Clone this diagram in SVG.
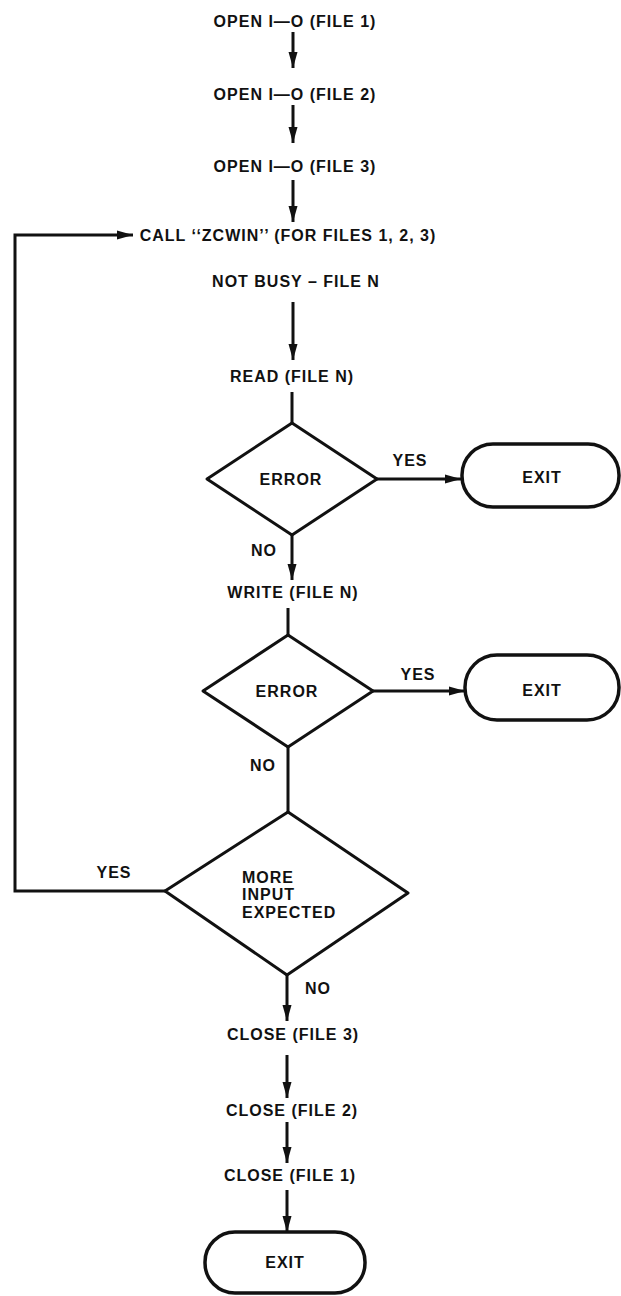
<svg xmlns="http://www.w3.org/2000/svg" width="621" height="1296" viewBox="0 0 621 1296">
  <style>
    text { font-family: "Liberation Sans", Arial, Helvetica, sans-serif; font-weight: bold; font-size: 16px; fill: #111; letter-spacing: 1px; }
    .c { text-anchor: middle; }
    .shape { fill: none; stroke: #111; stroke-width: 3; stroke-linejoin: round; }
    .term { fill: none; stroke: #111; stroke-width: 3.5; }
    .wire { fill: none; stroke: #111; stroke-width: 3; }
  </style>
  <defs>
    <marker id="arrow" markerUnits="userSpaceOnUse" markerWidth="18" markerHeight="10" refX="16" refY="5" orient="auto">
      <path d="M0,0.5 L16,5 L0,9.5 z" fill="#111"/>
    </marker>
  </defs>
  <rect width="621" height="1296" fill="#fff"/>

  <!-- connectors -->
  <g id="connectors">
    <line class="wire" x1="293" y1="32" x2="293" y2="68" marker-end="url(#arrow)"/>
    <line class="wire" x1="293" y1="105" x2="293" y2="143" marker-end="url(#arrow)"/>
    <line class="wire" x1="293" y1="180" x2="293" y2="222" marker-end="url(#arrow)"/>
    <line class="wire" x1="293" y1="302" x2="293" y2="360" marker-end="url(#arrow)"/>
    <line class="wire" x1="292" y1="392" x2="292" y2="423"/>
    <line class="wire" x1="377" y1="479" x2="461" y2="479" marker-end="url(#arrow)"/>
    <line class="wire" x1="292" y1="535" x2="292" y2="580" marker-end="url(#arrow)"/>
    <line class="wire" x1="288" y1="608" x2="288" y2="635"/>
    <line class="wire" x1="373" y1="691" x2="465" y2="691" marker-end="url(#arrow)"/>
    <line class="wire" x1="288" y1="747" x2="288" y2="812"/>
    <polyline class="wire" points="165,891 15,891 15,235 133,235" marker-end="url(#arrow)"/>
    <line class="wire" x1="287" y1="975" x2="287" y2="1021" marker-end="url(#arrow)"/>
    <line class="wire" x1="287" y1="1055" x2="287" y2="1098" marker-end="url(#arrow)"/>
    <line class="wire" x1="287" y1="1122" x2="287" y2="1163" marker-end="url(#arrow)"/>
    <line class="wire" x1="287" y1="1190" x2="287" y2="1232" marker-end="url(#arrow)"/>
  </g>

  <!-- labels on connectors -->
  <g id="edge-labels">
    <text class="c" x="410" y="466">YES</text>
    <text class="c" x="264" y="556">NO</text>
    <text class="c" x="418" y="680">YES</text>
    <text class="c" x="263" y="771">NO</text>
    <text class="c" x="114" y="878">YES</text>
    <text class="c" x="318" y="994">NO</text>
  </g>

  <g id="open1"><text class="c" x="295" y="27">OPEN I—O (FILE 1)</text></g>
  <g id="open2"><text class="c" x="295" y="100">OPEN I—O (FILE 2)</text></g>
  <g id="open3"><text class="c" x="295" y="172">OPEN I—O (FILE 3)</text></g>
  <g id="call"><text class="c" x="288" y="241">CALL ‘‘ZCWIN’’ (FOR FILES 1, 2, 3)</text></g>
  <g id="notbusy"><text class="c" x="296" y="287">NOT BUSY – FILE N</text></g>
  <g id="read"><text class="c" x="292" y="382">READ (FILE N)</text></g>

  <g id="error1">
    <polygon class="shape" points="292,423 377,479 292,535 207,479"/>
    <text class="c" x="291" y="485">ERROR</text>
  </g>
  <g id="exit1">
    <rect class="term" x="462" y="444" width="157" height="63" rx="31" ry="31"/>
    <text class="c" x="542" y="483">EXIT</text>
  </g>

  <g id="write"><text class="c" x="293" y="598">WRITE (FILE N)</text></g>

  <g id="error2">
    <polygon class="shape" points="288,635 373,691 288,747 203,691"/>
    <text class="c" x="287" y="697">ERROR</text>
  </g>
  <g id="exit2">
    <rect class="term" x="465" y="655" width="154" height="65" rx="32" ry="32"/>
    <text class="c" x="542" y="696">EXIT</text>
  </g>

  <g id="more-input">
    <polygon class="shape" points="288,812 408,893 287,975 165,891"/>
    <text x="242" y="883">MORE</text>
    <text x="242" y="900">INPUT</text>
    <text x="242" y="918">EXPECTED</text>
  </g>

  <g id="close3"><text class="c" x="293" y="1040">CLOSE (FILE 3)</text></g>
  <g id="close2"><text class="c" x="292" y="1116">CLOSE (FILE 2)</text></g>
  <g id="close1"><text class="c" x="290" y="1181">CLOSE (FILE 1)</text></g>

  <g id="exit3">
    <rect class="term" x="205" y="1232" width="160" height="61" rx="30" ry="30"/>
    <text class="c" x="285" y="1268">EXIT</text>
  </g>
</svg>
